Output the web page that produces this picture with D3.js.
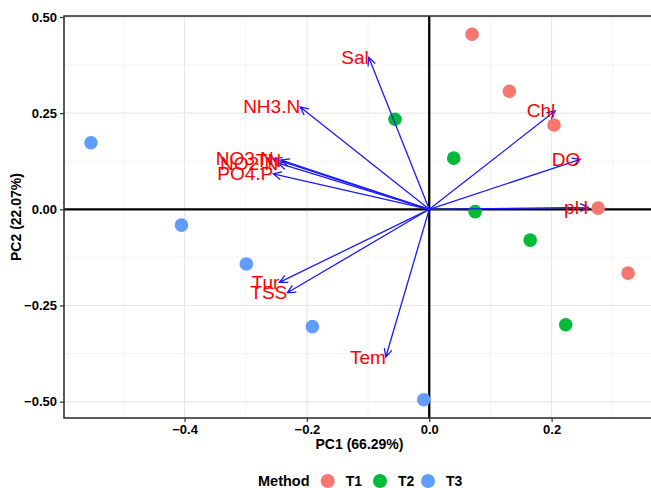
<!DOCTYPE html>
<html>
<head>
<meta charset="utf-8">
<script src="https://cdn.jsdelivr.net/npm/d3@7"></script>
<style>
  html, body { margin: 0; padding: 0; background: #ffffff; }
  svg { display: block; font-family: "Liberation Sans", Arial, sans-serif; }
</style>
</head>
<body>
<svg id="chart" width="651" height="488"></svg>
<script>
// ---- data ----
const groups = ["T1", "T2", "T3"];
const groupColors = ["#F8766D", "#00BA38", "#619CFF"];

const sampleGroup = ["T1","T1","T1","T1","T1","T2","T2","T2","T2","T2","T3","T3","T3","T3","T3"];
const samplePC1 = [0.070, 0.131, 0.204, 0.276, 0.325, -0.056, 0.040, 0.075, 0.165, 0.223, -0.553, -0.405, -0.299, -0.191, -0.009];
const samplePC2 = [0.455, 0.307, 0.219, 0.003, -0.166, 0.234, 0.133, -0.006, -0.080, -0.300, 0.173, -0.041, -0.142, -0.305, -0.495];

const varNames = ["Sal", "NH3.N", "NO3.N", "NO2.N", "TN", "PO4.P", "Chl", "DO", "pH", "Tem", "Tur", "TSS"];
const varPC1 = [-0.099, -0.211, -0.254, -0.247, -0.242, -0.255, 0.206, 0.247, 0.260, -0.071, -0.245, -0.232];
const varPC2 = [0.395, 0.266, 0.131, 0.120, 0.128, 0.092, 0.256, 0.130, 0.005, -0.384, -0.190, -0.217];

const xTicks = [-0.4, -0.2, 0.0, 0.2, 0.4];
const xMinor = [-0.5, -0.3, -0.1, 0.1, 0.3];
const yTicks = [-0.50, -0.25, 0.00, 0.25, 0.50];
const yMinor = [-0.375, -0.125, 0.125, 0.375];

const xTitle = "PC1 (66.29%)";
const yTitle = "PC2 (22.07%)";
const legendTitle = "Method";

// ---- layout ----
const svg = d3.select("#chart");
const panel = { left: 64, right: 655, top: 16, bottom: 418 };

const x = d3.scaleLinear().domain([-0.597, 0.369]).range([panel.left, panel.right]);
const y = d3.scaleLinear().domain([-0.5425, 0.5025]).range([panel.bottom, panel.top]);
const color = d3.scaleOrdinal().domain(groups).range(groupColors);

svg.append("defs").append("clipPath").attr("id", "clip")
  .append("rect")
  .attr("x", panel.left).attr("y", panel.top)
  .attr("width", panel.right - panel.left).attr("height", panel.bottom - panel.top);

const g = svg.append("g").attr("clip-path", "url(#clip)");

g.append("rect")
  .attr("x", panel.left).attr("y", panel.top)
  .attr("width", panel.right - panel.left).attr("height", panel.bottom - panel.top)
  .attr("fill", "#ffffff");

// minor grid
g.selectAll(".xminor").data(xMinor).join("line")
  .attr("x1", d => x(d)).attr("x2", d => x(d))
  .attr("y1", panel.top).attr("y2", panel.bottom)
  .attr("stroke", "#F3F3F3").attr("stroke-width", 0.9);
g.selectAll(".yminor").data(yMinor).join("line")
  .attr("y1", d => y(d)).attr("y2", d => y(d))
  .attr("x1", panel.left).attr("x2", panel.right)
  .attr("stroke", "#F3F3F3").attr("stroke-width", 0.9);
// major grid
g.selectAll(".xmajor").data(xTicks).join("line")
  .attr("x1", d => x(d)).attr("x2", d => x(d))
  .attr("y1", panel.top).attr("y2", panel.bottom)
  .attr("stroke", "#E8E8E8").attr("stroke-width", 1.2);
g.selectAll(".ymajor").data(yTicks).join("line")
  .attr("y1", d => y(d)).attr("y2", d => y(d))
  .attr("x1", panel.left).attr("x2", panel.right)
  .attr("stroke", "#E8E8E8").attr("stroke-width", 1.2);

// zero lines
g.append("line").attr("x1", panel.left).attr("x2", panel.right)
  .attr("y1", y(0)).attr("y2", y(0)).attr("stroke", "#000").attr("stroke-width", 2.3);
g.append("line").attr("y1", panel.top).attr("y2", panel.bottom)
  .attr("x1", x(0)).attr("x2", x(0)).attr("stroke", "#000").attr("stroke-width", 2.3);

// points
const samples = samplePC1.map((v, i) => ({ pc1: v, pc2: samplePC2[i], grp: sampleGroup[i] }));
g.selectAll(".pt").data(samples).join("circle")
  .attr("cx", d => x(d.pc1)).attr("cy", d => y(d.pc2))
  .attr("r", 6.8).attr("fill", d => color(d.grp));

// arrows
const vars = varNames.map((n, i) => ({ name: n, pc1: varPC1[i], pc2: varPC2[i] }));
const head = 9, ang = Math.PI / 7;
g.selectAll(".arrow").data(vars).join("path")
  .attr("d", d => {
    const x0 = x(0), y0 = y(0), x1 = x(d.pc1), y1 = y(d.pc2);
    const a = Math.atan2(y1 - y0, x1 - x0);
    const ax = x1 - head * Math.cos(a - ang), ay = y1 - head * Math.sin(a - ang);
    const bx = x1 - head * Math.cos(a + ang), by = y1 - head * Math.sin(a + ang);
    return `M${x0},${y0}L${x1},${y1}M${ax},${ay}L${x1},${y1}L${bx},${by}`;
  })
  .attr("fill", "none").attr("stroke", "#1a1aff").attr("stroke-width", 1.3)
  .attr("stroke-linejoin", "miter");

// labels
g.selectAll(".vlab").data(vars).join("text")
  .attr("x", d => x(d.pc1)).attr("y", d => y(d.pc2))
  .attr("text-anchor", "end").attr("dominant-baseline", "central")
  .attr("fill", "#FF0000").attr("font-size", 19)
  .text(d => d.name);

// panel border
svg.append("rect")
  .attr("x", panel.left).attr("y", panel.top)
  .attr("width", panel.right - panel.left).attr("height", panel.bottom - panel.top)
  .attr("fill", "none").attr("stroke", "#333333").attr("stroke-width", 1.6);

// axes
const xAxis = svg.append("g").attr("transform", `translate(0,${panel.bottom})`)
  .call(d3.axisBottom(x).tickValues(xTicks.filter(t => x(t) < 651)).tickFormat(d3.format(".1f")).tickSize(4).tickPadding(3));
const yAxis = svg.append("g").attr("transform", `translate(${panel.left},0)`)
  .call(d3.axisLeft(y).tickValues(yTicks).tickFormat(d3.format(".2f")).tickSize(4).tickPadding(3));
[xAxis, yAxis].forEach(ax => {
  ax.select(".domain").remove();
  ax.selectAll(".tick line").attr("stroke", "#333").attr("stroke-width", 1.2);
  ax.selectAll(".tick text").attr("fill", "#000").attr("font-size", 13).attr("font-weight", "bold")
    .attr("font-family", "'Liberation Sans', Arial, sans-serif");
});

// axis titles
const cx = (panel.left + panel.right) / 2;
svg.append("text").attr("x", cx).attr("y", 449)
  .attr("text-anchor", "middle").attr("font-size", 14).attr("font-weight", "bold").text(xTitle);
svg.append("text").attr("transform", `translate(21,${(panel.top + panel.bottom) / 2}) rotate(-90)`)
  .attr("text-anchor", "middle").attr("font-size", 14).attr("font-weight", "bold").text(yTitle);

// legend
const leg = svg.append("g");
leg.append("text").attr("x", 258).attr("y", 486).attr("font-size", 14.5).attr("font-weight", "bold").text(legendTitle);
const legX = [327.7, 380, 428];
groups.forEach((gname, i) => {
  leg.append("circle").attr("cx", legX[i]).attr("cy", 481).attr("r", 7).attr("fill", color(gname));
  leg.append("text").attr("x", legX[i] + 18).attr("y", 486).attr("font-size", 14).attr("font-weight", "bold").text(gname);
});
</script>
</body>
</html>
